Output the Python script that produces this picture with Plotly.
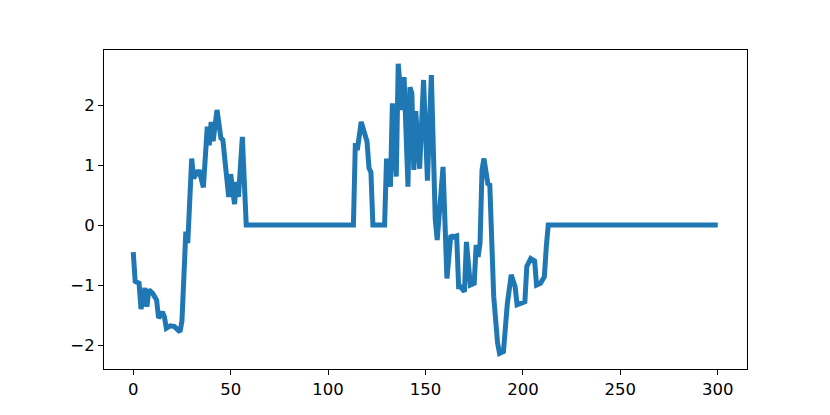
import plotly.graph_objects as go

x_vals = [0, 1, 3, 4, 6, 7, 8, 10, 12, 13, 15, 16, 17, 19, 21, 24, 25, 27, 28, 30,
          31, 33, 34, 36, 38, 39, 40, 41, 43, 45, 46, 48, 49, 50, 52, 53, 54, 56, 58,
          113, 114, 115, 117, 120, 121, 122, 123, 129, 130, 132, 133, 135, 136, 138,
          139, 141, 142, 143, 144, 145, 147, 149, 151, 153, 155, 156, 159, 161, 163,
          164, 166, 167, 168, 170, 171, 173, 175, 176, 177, 178, 179, 180, 182, 183,
          185, 187, 188, 190, 191, 192, 194, 196, 197, 199, 201, 202, 204, 206, 207,
          209, 210, 211, 212, 213, 300]
y_vals = [-0.45, -0.94, -0.97, -1.40, -1.05, -1.36, -1.08, -1.14, -1.25, -1.55, -1.45,
          -1.53, -1.72, -1.68, -1.69, -1.78, -1.60, -0.11, -0.30, 1.11,
          0.78, 0.89, 0.89, 0.63, 1.64, 1.33, 1.72, 1.40, 1.92, 1.45, 1.42, 0.80, 0.47,
          0.85, 0.35, 0.72, 0.47, 1.47, 0.00,
          0.00, 1.37, 1.25, 1.72, 1.39, 0.95, 0.88, 0.00, 0.00, 1.11, 0.64, 2.03, 0.81,
          2.69, 1.92, 2.47, 0.64, 2.30, 2.20, 0.92, 1.90, 0.94, 2.42, 0.74, 2.50, 0.10,
          -0.25, 0.97, -0.89, -0.17, -0.20, -0.18, -1.03, -1.03, -1.11, -0.28, -1.00,
          -0.97, -0.33, -0.53, -0.30, 0.92, 1.11, 0.69, 0.67, -1.19, -1.97, -2.14,
          -2.11, -1.64, -1.31, -0.83, -1.03, -1.33, -1.30, -1.28, -0.69, -0.56, -0.60,
          -1.00, -0.97, -0.89, -0.86, -0.36, 0.00, 0.00]

fig = go.Figure()
fig.add_trace(go.Scatter(x=x_vals, y=y_vals, mode="lines",
                         line=dict(color="#1f77b4", width=5)))

axis_style = dict(showgrid=False, zeroline=False, showline=True, linecolor="black",
                  linewidth=1, mirror=True, ticks="outside", ticklen=5, tickwidth=1,
                  tickcolor="black", tickfont=dict(size=16.5, color="black"))
fig.update_xaxes(range=[-15, 315], tickvals=[0, 50, 100, 150, 200, 250, 300], **axis_style)
fig.update_yaxes(range=[-2.4, 2.92], tickvals=[-2, -1, 0, 1, 2], **axis_style)
# page body adds an 8px offset, so margins are trimmed on the left/top
fig.update_layout(width=830, height=415, plot_bgcolor="white", paper_bgcolor="white",
                  margin=dict(l=96, r=91, t=42, b=54), showlegend=False,
                  font=dict(family="DejaVu Sans", size=16.5, color="black"))
fig.write_html("out.html")
